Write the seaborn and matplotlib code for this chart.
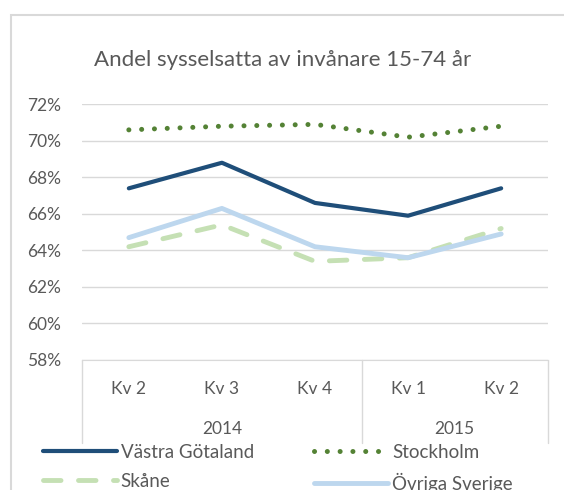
import numpy as np
import pandas as pd
import seaborn as sns
import matplotlib.pyplot as plt
from matplotlib.patches import Rectangle
from matplotlib.ticker import FuncFormatter

# Data
kvartal = ["Kv 2", "Kv 3", "Kv 4", "Kv 1", "Kv 2"]
ar = ["2014", "2014", "2014", "2015", "2015"]
vastra_gotaland = [67.4, 68.8, 66.6, 65.9, 67.4]
stockholm = [70.6, 70.8, 70.9, 70.2, 70.8]
skane = [64.2, 65.4, 63.4, 63.6, 65.2]
ovriga_sverige = [64.7, 66.3, 64.2, 63.6, 64.9]

serier = {
    "Västra Götaland": vastra_gotaland,
    "Stockholm": stockholm,
    "Skåne": skane,
    "Övriga Sverige": ovriga_sverige,
}

df = pd.DataFrame({"pos": np.arange(len(kvartal)), "Kvartal": kvartal, "År": ar})
for namn, v in serier.items():
    df[namn] = v
long = df.melt(id_vars=["pos", "Kvartal", "År"], var_name="Region", value_name="Andel")

sns.set_style("white")
plt.rcParams["font.family"] = ["Lato", "DejaVu Sans"]
textfarg = "#595959"
gridfarg = "#D9D9D9"
fs = 12.5

stilar = {
    "Västra Götaland": dict(color="#1F4E79", lw=3.0, linestyle="-", solid_capstyle="round"),
    "Stockholm": dict(color="#548235", lw=3.6, linestyle=(0, (0.01, 2.55)), dash_capstyle="round"),
    "Skåne": dict(color="#C5E0B4", lw=3.5, linestyle=(0, (3.6, 3.6)), dash_capstyle="round"),
    "Övriga Sverige": dict(color="#BDD7EE", lw=3.5, linestyle="-", solid_capstyle="round"),
}

fig = plt.figure(figsize=(5.64, 4.9), dpi=100)
ax = fig.add_axes([82.3 / 564, 1 - 360 / 490, (547.7 - 82.3) / 564, (360 - 104.3) / 490])

# ramen runt diagrammet
fig.patches.append(Rectangle((11 / 564, -0.1), 1.2, 1 - 15 / 490 + 0.1, transform=fig.transFigure,
                             fill=False, edgecolor=gridfarg, lw=1.5))

for namn in serier:
    d = long[long["Region"] == namn]
    sns.lineplot(data=d, x="pos", y="Andel", ax=ax, label=namn, **stilar[namn])

ax.set_xlim(-0.5, len(kvartal) - 0.5)
ax.set_ylim(58, 72)
ax.set_yticks(range(58, 73, 2))
ax.yaxis.set_major_formatter(FuncFormatter(lambda v, p: f"{v:.0f}%"))
ax.grid(axis="y", color=gridfarg, lw=1)
ax.set_axisbelow(True)
for s in ["left", "right", "top"]:
    ax.spines[s].set_visible(False)
ax.spines["bottom"].set_color(gridfarg)
ax.tick_params(axis="y", length=0, pad=15, labelsize=fs, labelcolor=textfarg)
ax.set_xticks(df["pos"])
ax.set_xticklabels(kvartal)
ax.tick_params(axis="x", length=0, pad=15, labelsize=fs, labelcolor=textfarg)
ax.set_xlabel("")
ax.set_ylabel("")

# årsgrupper under kategoriaxeln
trans = ax.get_xaxis_transform()
grans = [-0.5]
for i in range(1, len(ar)):
    if ar[i] != ar[i - 1]:
        grans.append(i - 0.5)
grans.append(len(ar) - 0.5)
for g in grans:
    ax.plot([g, g], [0, -83 / 255.7], transform=trans, color=gridfarg, lw=1, clip_on=False)
for a in sorted(set(ar)):
    idx = [i for i, v in enumerate(ar) if v == a]
    ax.text(np.mean(idx), -69 / 255.7, a, transform=trans, ha="center", va="center",
            fontsize=fs, color=textfarg)

fig.text(283 / 564, 1 - 60 / 490, "Andel sysselsatta av invånare 15-74 år", ha="center", va="center",
         fontsize=16, color=textfarg)

handles, labels = ax.get_legend_handles_labels()
ax.get_legend().remove()
ordning = [0, 2, 1, 3]
fig.legend([handles[i] for i in ordning], [labels[i] for i in ordning], ncol=2,
           loc="upper left", bbox_to_anchor=(43 / 564, 1 - 444 / 490), frameon=False,
           fontsize=13.5, labelcolor=textfarg, handlelength=3.95, handletextpad=0.2,
           columnspacing=3.2, labelspacing=0.62, borderaxespad=0, borderpad=0)

fig.savefig("out.png", dpi=100)
